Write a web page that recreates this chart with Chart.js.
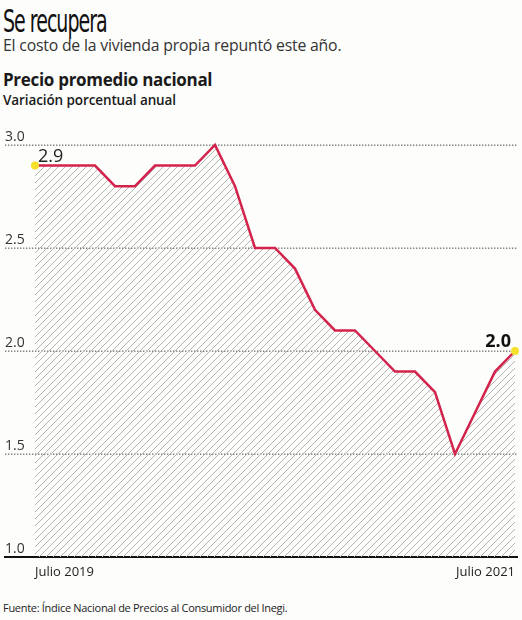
<!DOCTYPE html>
<html>
<head>
<meta charset="utf-8">
<script src="https://cdn.jsdelivr.net/npm/chart.js@4.4.1/dist/chart.umd.min.js"></script>
<style>
  html, body { margin: 0; padding: 0; background: #fdfdfb; }
  body { width: 522px; height: 620px; position: relative; overflow: hidden; font-family: "Open Sans", sans-serif; color: #222; }
  .t { position: absolute; left: 3px; white-space: nowrap; }
  #title { top: 2px; font-family: "Liberation Sans Narrow", "DejaVu Sans Condensed", sans-serif; font-size: 32px; letter-spacing: -1.5px; transform-origin: left top; transform: scaleX(0.66); color: #111; }
  #sub { top: 34px; font-size: 15.8px; color: #333; letter-spacing: -0.2px; }
  #h1 { top: 68px; font-size: 17px; font-weight: 700; color: #1a1a1a; letter-spacing: -0.3px; }
  #h2 { top: 91px; font-size: 13.5px; font-weight: 600; color: #1a1a1a; letter-spacing: -0.1px; }
  #src { top: 600px; font-size: 11px; color: #222; letter-spacing: -0.3px; }
  #wrap { position: absolute; left: 0; top: 120px; width: 522px; height: 470px; }
</style>
</head>
<body>
<div class="t" id="title">Se recupera</div>
<div class="t" id="sub">El costo de la vivienda propia repuntó este año.</div>
<div class="t" id="h1">Precio promedio nacional</div>
<div class="t" id="h2">Variación porcentual anual</div>
<div id="wrap"><canvas id="c"></canvas></div>
<div class="t" id="src">Fuente: Índice Nacional de Precios al Consumidor del Inegi.</div>
<script>
const months = ["Jul 2019","Ago 2019","Sep 2019","Oct 2019","Nov 2019","Dic 2019","Ene 2020","Feb 2020","Mar 2020","Abr 2020","May 2020","Jun 2020","Jul 2020","Ago 2020","Sep 2020","Oct 2020","Nov 2020","Dic 2020","Ene 2021","Feb 2021","Mar 2021","Abr 2021","May 2021","Jun 2021","Jul 2021"];
const values = [2.9,2.9,2.9,2.9,2.8,2.8,2.9,2.9,2.9,3.0,2.8,2.5,2.5,2.4,2.2,2.1,2.1,2.0,1.9,1.9,1.8,1.5,1.7,1.9,2.0];
const yTicks = [1.0, 1.5, 2.0, 2.5, 3.0];
const xLabels = ["Julio 2019", "Julio 2021"];

function hatch() {
  const s = 7;
  const p = document.createElement('canvas');
  p.width = s; p.height = s;
  const g = p.getContext('2d');
  g.strokeStyle = '#b4b4b4';
  g.lineWidth = 1;
  g.beginPath();
  g.moveTo(-1, s + 1); g.lineTo(s + 1, -1);
  g.moveTo(-1, 1); g.lineTo(1, -1);
  g.moveTo(s - 1, s + 1); g.lineTo(s + 1, s - 1);
  g.stroke();
  return g.createPattern(p, 'repeat');
}

const pts = values.map((v, i) => ({ x: i, y: v }));
const last = values.length - 1;

const decor = {
  id: 'decor',
  beforeDatasetsDraw(chart) {
    const { ctx, chartArea, scales: { y } } = chart;
    ctx.save();
    ctx.fillStyle = '#7a7a7a';
    yTicks.forEach(t => {
      if (t === yTicks[0]) return;
      const py = Math.round(y.getPixelForValue(t));
      for (let px = chartArea.left; px < chartArea.right; px += 3) {
        ctx.fillRect(px, py - 0.5, 1.4, 1.4);
      }
    });
    ctx.restore();
  },
  afterDatasetsDraw(chart) {
    const { ctx, scales: { x, y } } = chart;
    ctx.save();
    ctx.fillStyle = '#333';
    ctx.font = '14px "Open Sans", sans-serif';
    ctx.textAlign = 'left';
    ctx.textBaseline = 'alphabetic';
    yTicks.forEach(t => {
      ctx.fillText(t.toFixed(1), chart.chartArea.left, y.getPixelForValue(t) - 4);
    });
    ctx.font = '13px "Open Sans", sans-serif';
    ctx.fillStyle = '#222';
    ctx.textBaseline = 'top';
    ctx.textAlign = 'left';
    ctx.fillText(xLabels[0], x.getPixelForValue(0), chart.chartArea.bottom + 9);
    ctx.textAlign = 'right';
    ctx.fillText(xLabels[1], x.getPixelForValue(last), chart.chartArea.bottom + 9);
    const meta = chart.getDatasetMeta(0);
    const p0 = meta.data[0], pN = meta.data[last];
    ctx.textBaseline = 'alphabetic';
    ctx.textAlign = 'left';
    ctx.fillStyle = '#222';
    ctx.font = '18px "Open Sans", sans-serif';
    ctx.fillText(values[0].toFixed(1), p0.x + 3, p0.y - 4);
    ctx.textAlign = 'right';
    ctx.font = 'bold 18px "Open Sans", sans-serif';
    ctx.fillStyle = '#111';
    ctx.fillText(values[last].toFixed(1), pN.x - 4, pN.y - 4);
    ctx.restore();
  }
};

new Chart(document.getElementById('c'), {
  type: 'line',
  data: {
    labels: months,
    datasets: [{
      data: pts,
      borderColor: '#d3234c',
      borderWidth: 2.5,
      tension: 0,
      fill: 'start',
      backgroundColor: hatch(),
      pointRadius: ctx => (ctx.dataIndex === 0 || ctx.dataIndex === last) ? 4 : 0,
      pointBackgroundColor: '#f5e12a',
      pointBorderColor: '#f5e12a',
      pointBorderWidth: 0,
      clip: false
    }]
  },
  options: {
    responsive: true,
    maintainAspectRatio: false,
    animation: false,
    events: [],
    layout: { padding: { top: 25, bottom: 25, left: 5, right: 5 } },
    plugins: { legend: { display: false }, tooltip: { enabled: false } },
    scales: {
      x: {
        type: 'linear',
        min: -1.5,
        max: 24.1,
        ticks: { display: false },
        grid: { display: false },
        border: { display: true, color: '#111', width: 2 }
      },
      y: {
        display: false,
        min: 1.0,
        max: 3.0
      }
    }
  },
  plugins: [decor]
});
</script>
</body>
</html>
